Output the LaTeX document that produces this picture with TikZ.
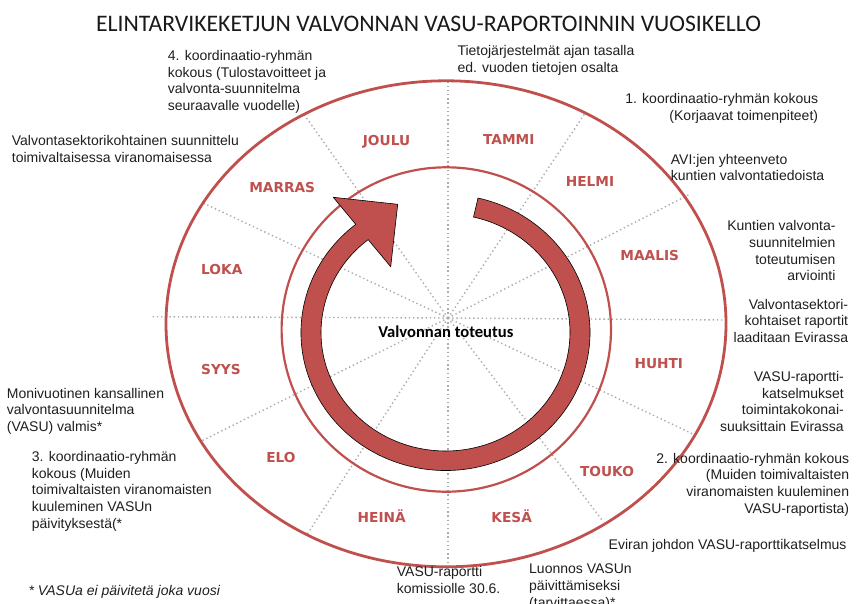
\documentclass[tikz,border=0pt]{standalone}
\usepackage{fontspec}
\setmainfont{Liberation Sans}
\newfontfamily\calibri{Carlito}
\newfontfamily\monthfont{DejaVu Sans}
\usepackage{tikz}
\usetikzlibrary{calc}
\definecolor{clockred}{RGB}{192,80,77}
\definecolor{notegray}{RGB}{30,30,30}

\begin{document}
\begin{tikzpicture}[x=1pt,y=-1pt,
  month/.style={font=\monthfont\bfseries\fontsize{13.7}{16}\selectfont,text=clockred,anchor=base,inner sep=0},
  note/.style={font=\fontsize{14}{16.7}\selectfont,text=notegray,inner sep=0,align=left,anchor=north west,execute at begin node=\strut},
  rnote/.style={note,align=right,anchor=north east},
  spoke/.style={gray!65,line width=1.4pt,dash pattern=on 1.4pt off 2.8pt},
  ring/.style={draw=clockred,line width=2.8pt}]

  \clip (0,0) rectangle (859,603);

  \coordinate (hub) at (448,318);
  \foreach \x/\y in {448/80.7,585/113.3,688.3/195,726/320,695/435,603.3/521.7,
                     448/567,306.7/535,200/441.7,152/316.7,203/203,303.3/113.3}
    \draw[spoke] (hub) -- (\x,\y);

  \draw[ring] (446,323.8) ellipse[x radius=280,y radius=243];
  \draw[ring,line width=2.2pt] (446.3,329.5) ellipse[x radius=164.7,y radius=162.2];

  % circular arrow
  \coordinate (c) at (445.5,332.5);
  \coordinate (wingout) at (333.3,197.3);
  \coordinate (tip) at (397.7,204.3);
  \coordinate (wingin) at (390.7,266.7);
  \filldraw[fill=clockred,draw=black,line width=0.6pt]
    ($(c)+(-77:144.5 and 138)$) arc[start angle=-77,end angle=231.6,x radius=144.5,y radius=138]
    -- (wingout) -- (tip) -- (wingin)
    -- ($(c)+(231.6:124.5 and 118.5)$) arc[start angle=231.6,end angle=-77,x radius=124.5,y radius=118.5]
    -- cycle;

  \node[font=\calibri\fontsize{23.7}{28}\selectfont,text=black!90,anchor=base,inner sep=0] (title)
    at (428.5,31) {ELINTARVIKEKETJUN VALVONNAN VASU-RAPORTOINNIN VUOSIKELLO};
  \node[font=\calibri\bfseries\fontsize{16.6}{20}\selectfont,anchor=base,inner sep=0] (centre)
    at (445.8,337.3) {Valvonnan toteutus};

  \foreach \name/\txt/\x/\y in {m12/JOULU/386.5/145, m1/TAMMI/508.8/144.3, m2/HELMI/590/186,
      m3/MAALIS/649.7/260.7, m4/HUHTI/658.8/368.3, m5/TOUKO/607/476,
      m6/KESÄ/511.7/522.7, m7/HEINÄ/381.7/522.7, m8/ELO/281/462.3,
      m9/SYYS/221/374, m10/LOKA/221.8/274, m11/MARRAS/282.2/192.7}
    \node[month] (\name) at (\x,\y) {\txt};

  \node[note] (n1) at (167.7,50.1) {4. koordinaatio-ryhmän\\kokous (Tulostavoitteet ja\\valvonta-suunnitelma\\seuraavalle vuodelle)};
  \node[note] (n2) at (11.7,135.1) {Valvontasektorikohtainen suunnittelu\\toimivaltaisessa viranomaisessa};
  \node[note] (n3) at (457.3,45.5) {Tietojärjestelmät ajan tasalla\\ed. vuoden tietojen osalta};
  \node[rnote] (n4) at (818.3,93.5) {1. koordinaatio-ryhmän kokous\\(Korjaavat toimenpiteet)};
  \node[note] (n5) at (670.7,153.8) {AVI:jen yhteenveto\\kuntien valvontatiedoista};
  \node[rnote] (n6) at (835.7,220.5) {Kuntien valvonta-\\suunnitelmien\\toteutumisen\\arviointi};
  \node[rnote] (n7) at (848.3,298.8) {Valvontasektori-\\kohtaiset raportit\\laaditaan Evirassa};
  \node[rnote] (n8) at (844,371.1) {VASU-raportti-\\katselmukset\\toimintakokonai-\\suuksittain Evirassa};
  \node[rnote] (n9) at (849.3,452.8) {2. koordinaatio-ryhmän kokous\\(Muiden toimivaltaisten\\viranomaisten kuuleminen\\VASU-raportista)};
  \node[rnote] (n10) at (846.7,537.8) {Eviran johdon VASU-raporttikatselmus};
  \node[note] (n11) at (529,563.8) {Luonnos VASUn\\päivittämiseksi\\(tarvittaessa)*};
  \node[note] (n12) at (396.7,566.1) {VASU-raportti\\komissiolle 30.6.};
  \node[note] (n13) at (6.7,387.8) {Monivuotinen kansallinen\\valvontasuunnitelma\\(VASU) valmis*};
  \node[note] (n14) at (31.7,451.1) {3. koordinaatio-ryhmän\\kokous (Muiden\\toimivaltaisten viranomaisten\\kuuleminen VASUn\\päivityksestä(*};
  \node[note,font=\itshape\fontsize{14}{16.7}\selectfont] (n15) at (28.3,583.8) {* VASUa ei päivitetä joka vuosi};

\end{tikzpicture}
\end{document}
